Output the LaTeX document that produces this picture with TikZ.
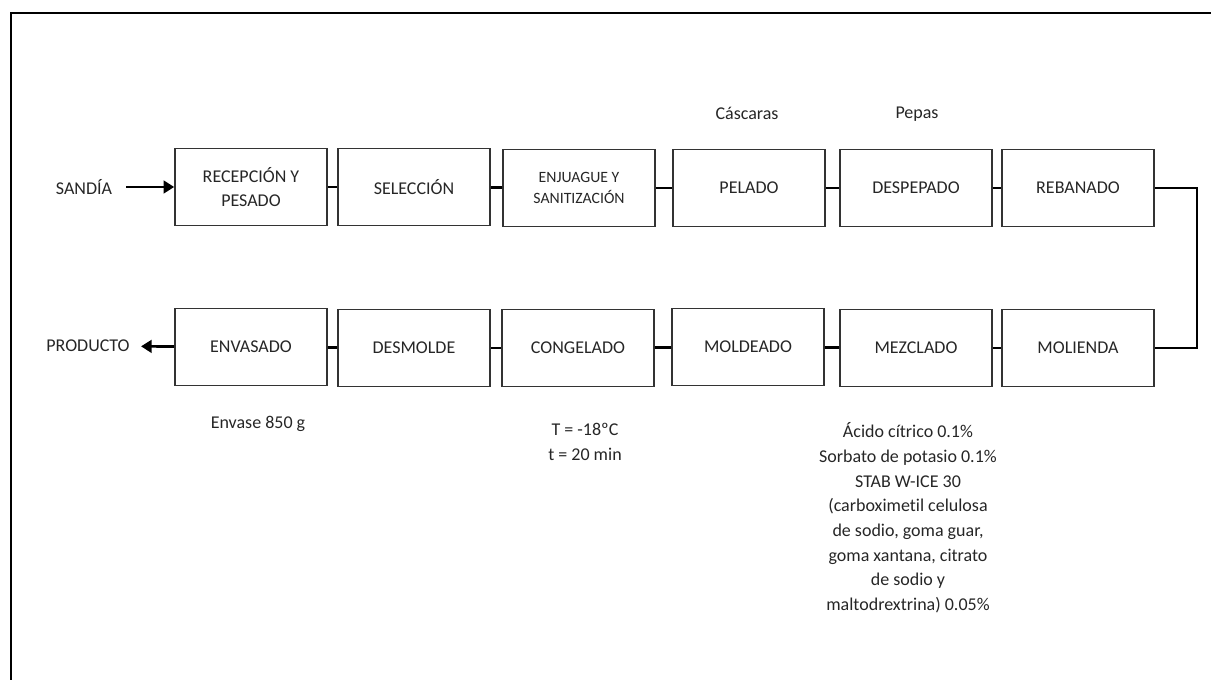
\documentclass[tikz,border=0pt]{standalone}
\usepackage{fontspec}
\setmainfont{Carlito}[Ligatures=NoCommon]
\usetikzlibrary{arrows.meta,positioning}

\tikzset{
  proc/.style={draw=black!80,line width=1.2pt,minimum width=114pt,minimum height=58pt,inner sep=0pt,align=center,font=\fontsize{13.5}{18.5}\selectfont,text=black!85},
  proclow/.style={proc,font=\fontsize{11.8}{16}\selectfont},
  lbl/.style={align=center,font=\fontsize{13.5}{18.5}\selectfont,text=black!85},
  enlace/.style={line width=2pt},
  flecha/.style={line width=2pt,-{Triangle[length=8pt,width=9.5pt]}}
}

\begin{document}
\begin{tikzpicture}[x=0.75pt,y=-0.75pt]
        \useasboundingbox (0,0) rectangle (1211,680);
        \draw[line width=2.2pt] (11,680) -- (11,13) -- (1211,13);
        \node[proc] (recep) at (251,187) {RECEPCIÓN Y\\PESADO};
        \node[proc] (selec) at (414,187) {SELECCIÓN};
        \node[proclow] (enjuag) at (579,188) {ENJUAGUE Y\\SANITIZACIÓN};
        \node[proc] (pelado) at (749,188) {PELADO};
        \node[proc] (despep) at (916,188) {DESPEPADO};
        \node[proc] (rebana) at (1078,188) {REBANADO};
        \node[proc] (envasa) at (251,347) {ENVASADO};
        \node[proc] (desmol) at (414,348) {DESMOLDE};
        \node[proc] (congel) at (578,348) {CONGELADO};
        \node[proc] (moldea) at (748,347) {MOLDEADO};
        \node[proc] (mezcla) at (916,348) {MEZCLADO};
        \node[proc] (molien) at (1078,348) {MOLIENDA};
        \node[lbl] (sandia) at (84,187) {SANDÍA};
        \node[lbl] (produc) at (88,346) {PRODUCTO};
        \node[lbl] (cascar) at (747,113) {Cáscaras};
        \node[lbl] (pepas) at (917,114) {Pepas};
        \node[lbl] (envase) at (258,424) {Envase 850 g};
        \node[lbl] (condic) at (585,442) {T = -18ºC\\t = 20 min};
        \node[lbl,anchor=north] (aditiv) at (908,418) {Ácido cítrico 0.1\%\\Sorbato de potasio 0.1\%\\STAB W-ICE 30\\(carboximetil celulosa\\de sodio, goma guar,\\goma xantana, citrato\\de sodio y\\maltodrextrina) 0.05\%};
        \coordinate (giro) at (1197,268);
        \draw[flecha,shorten <=7pt] (sandia) -- (recep);
        \draw[flecha,shorten >=5pt] (envasa) -- (produc);
        \draw[enlace] (recep) -- (selec);
        \draw[enlace] (selec) -- (enjuag);
        \draw[enlace] (enjuag) -- (pelado);
        \draw[enlace] (pelado) -- (despep);
        \draw[enlace] (despep) -- (rebana);
        \draw[enlace] (rebana.east) -- (rebana.east -| giro) |- (molien.east);
        \draw[enlace] (molien) -- (mezcla);
        \draw[enlace] (mezcla) -- (moldea);
        \draw[enlace] (moldea) -- (congel);
        \draw[enlace] (congel) -- (desmol);
        \draw[enlace] (desmol) -- (envasa);
\end{tikzpicture}
\end{document}
